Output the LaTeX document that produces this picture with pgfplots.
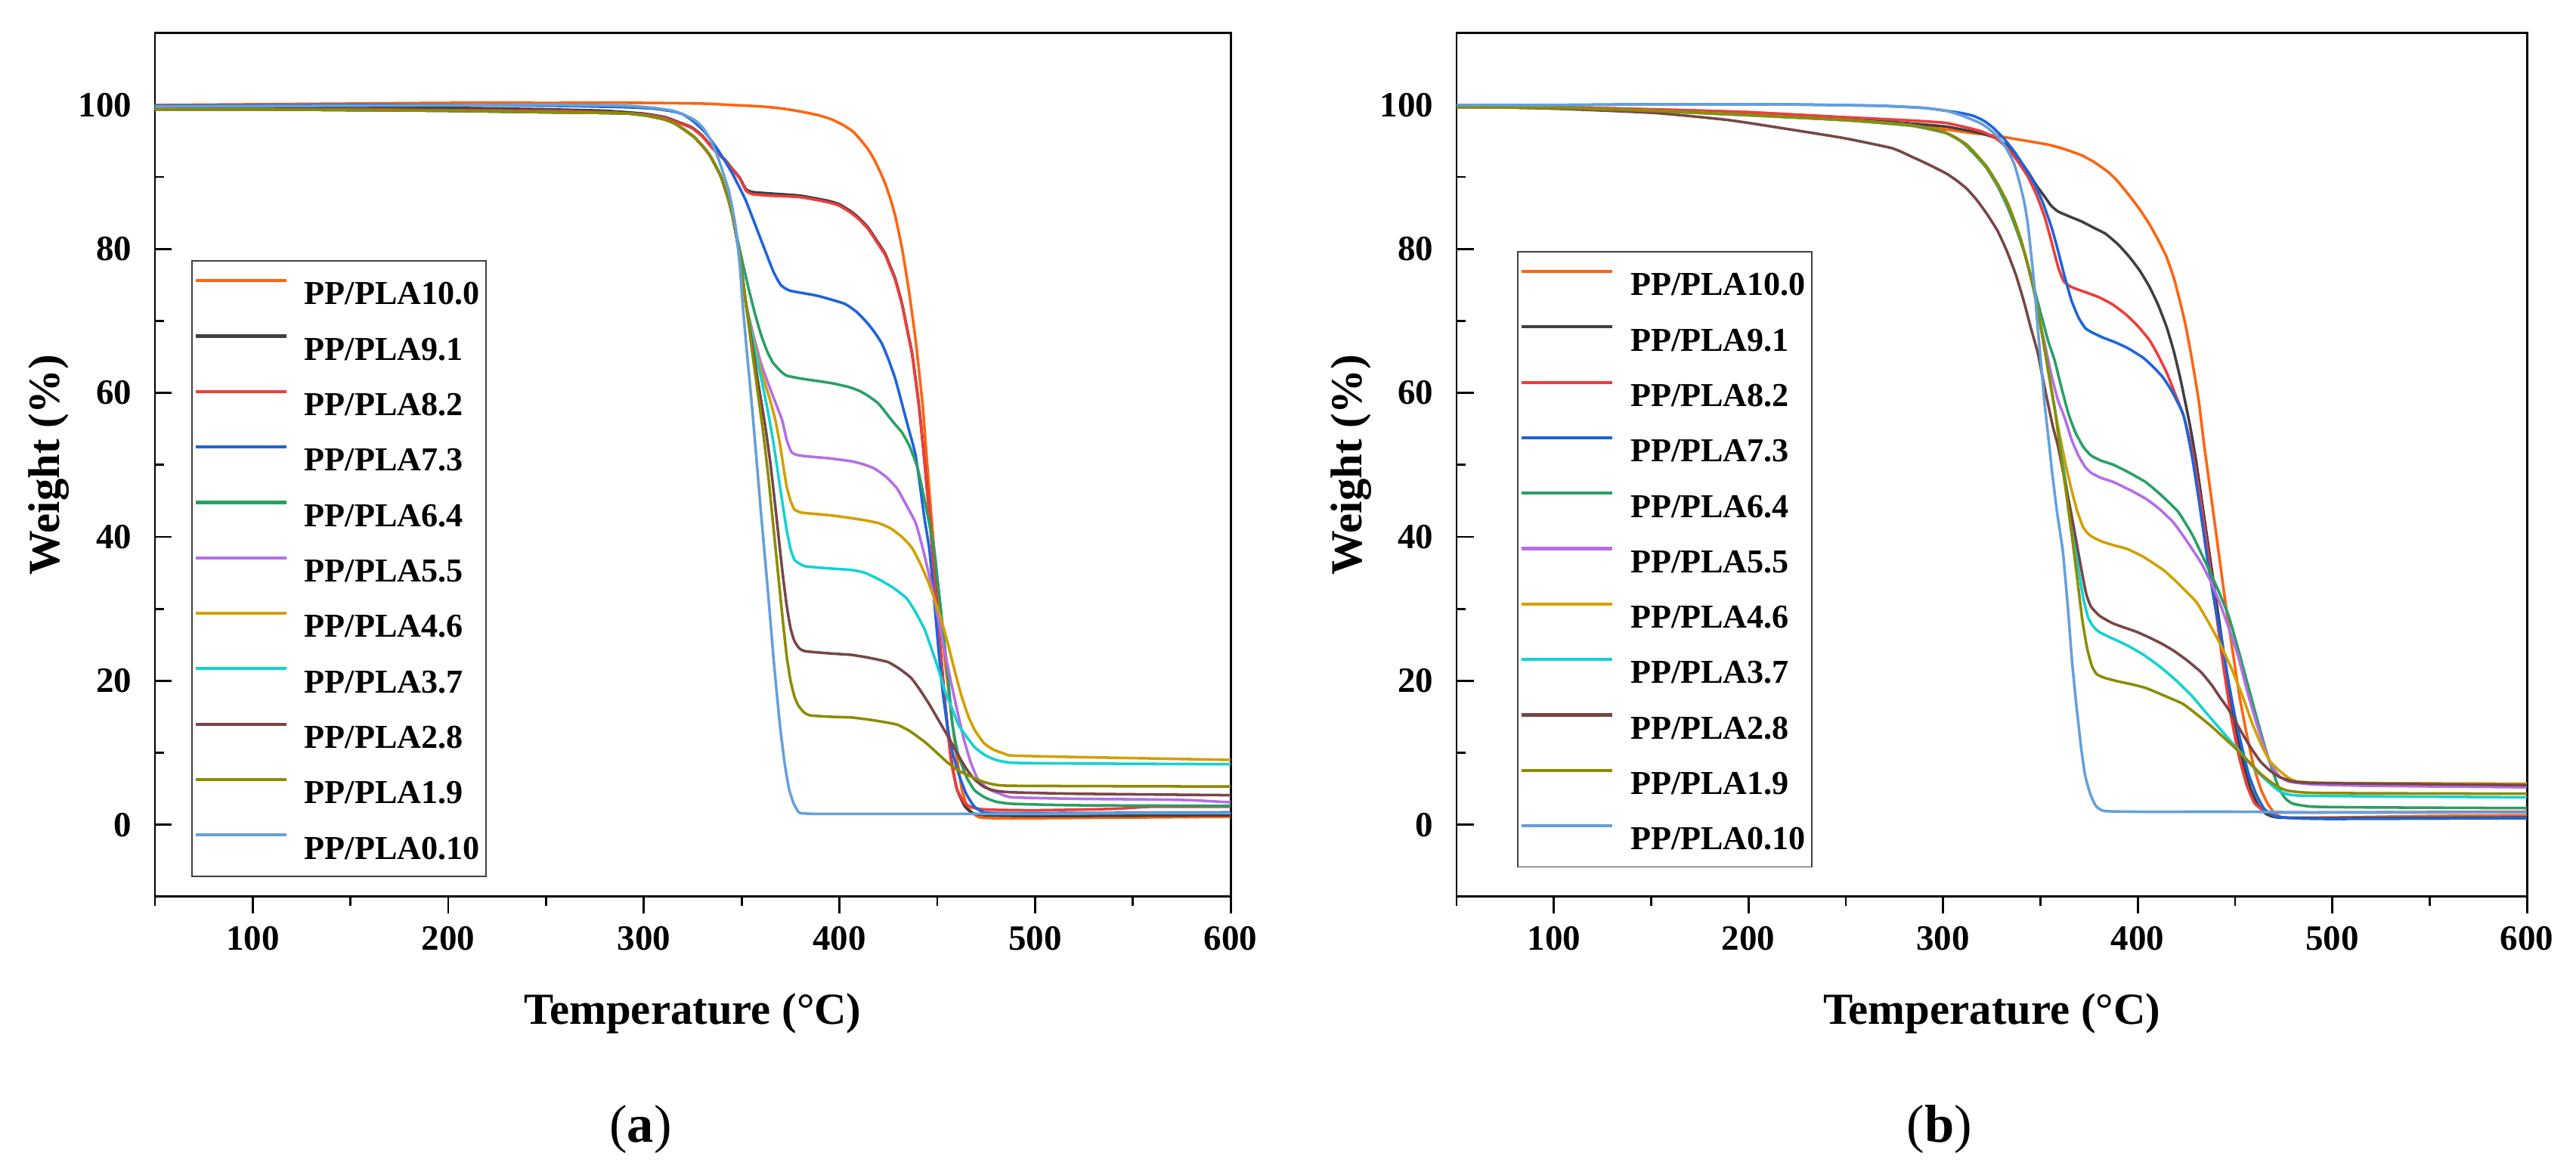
\documentclass[border=0pt]{standalone}
\usepackage{fontspec}
\setmainfont{Liberation Serif}
\usepackage{pgfplots}
\pgfplotsset{compat=1.18}

\definecolor{cA}{RGB}{255,100,16}
\definecolor{cB}{RGB}{64,64,64}
\definecolor{cC}{RGB}{240,60,60}
\definecolor{cD}{RGB}{30,100,220}
\definecolor{cE}{RGB}{40,160,100}
\definecolor{cF}{RGB}{180,110,230}
\definecolor{cG}{RGB}{210,160,0}
\definecolor{cH}{RGB}{20,210,210}
\definecolor{cI}{RGB}{120,70,70}
\definecolor{cJ}{RGB}{140,140,0}
\definecolor{cK}{RGB}{100,160,220}

\pgfplotsset{
  tga/.style={
    scale only axis, width=302.8pt, height=243pt, anchor=south west,
    xmin=50, xmax=600, ymin=-10, ymax=110,
    xtick={100,200,300,400,500,600}, minor xtick={50,150,250,350,450,550},
    ytick={0,20,40,60,80,100}, minor ytick={10,30,50,70,90},
    xtick pos=bottom, ytick pos=left,
    xtick align=outside, ytick align=inside,
    major tick length=4.8pt, minor tick length=2.5pt,
    tick style={black, line width=0.6pt},
    axis line style={line width=0.6pt},
    tick label style={font=\fontsize{10}{12}\selectfont\bfseries},
    /pgf/number format/assume math mode=true,
    yticklabel style={xshift=-3pt},
    xlabel={Temperature (°C)}, ylabel={Weight (\%)},
    label style={font=\fontsize{12.5}{15}\selectfont\bfseries},
    xlabel style={at={(axis description cs:0.5,-0.135)}, anchor=center},
    ylabel style={at={(axis description cs:-0.0985,0.5)}, anchor=center},
    legend style={anchor=north west, draw=black!75, line width=0.4pt, fill=white,
      font=\fontsize{9.4}{10}\selectfont\bfseries, inner xsep=0.7pt, inner ysep=3.3pt,
      row sep=5.1pt, cells={anchor=west},
      nodes={inner sep=1pt, text height=8pt, text depth=0.5pt}},
    legend image code/.code={\draw[#1, line width=0.9pt, sharp plot] (0pt,3pt) -- (25.5pt,3pt); \path (29.2pt,3pt);},
    every axis plot/.append style={line width=0.75pt, mark=none, smooth, tension=0.3},
  }
}

\begin{document}
\begin{tikzpicture}
\useasboundingbox (-43.6pt,-76.6pt) rectangle (681.5pt,252.3pt);

% (a)
\begin{axis}[tga, at={(0pt,0pt)}, legend style={at={(0.0337,0.737)}}]
\addplot[cA] coordinates {(50,100.0)(100,100.1)(150,100.2)(200,100.3)(250,100.3)(300,100.3)(330,100.2)(345,100.0)(360,99.8)(371,99.5)(380,99.1)(389,98.6)(396,98.0)(402,97.2)(407,96.3)(411,95.1)(415,93.7)(418,92.3)(421,90.6)(423.5,89.0)(426,87.0)(428.5,84.6)(432,80.1)(435.5,74.2)(439,67.2)(442.5,58.4)(444.5,51.4)(446.5,44.5)(448.5,38.0)(451,31.0)(453,25.0)(455.3,19.7)(457.5,14.5)(460,9.5)(462.5,5.0)(465,2.8)(468,1.6)(472,1.0)(480,0.9)(500,0.9)(550,1.0)(600,1.1)};
\addlegendentry{PP/PLA10.0}
\addplot[cB] coordinates {(50,99.8)(100,99.7)(150,99.6)(200,99.6)(250,99.4)(280,99.2)(300,98.8)(311,98.3)(318,97.6)(324.5,96.9)(330,95.7)(335,94.1)(341.8,92.3)(345,91.2)(349,89.9)(352.2,88.3)(355.7,87.9)(365,87.7)(380,87.4)(394,86.7)(400,86.2)(406,85.2)(410,84.3)(414.6,83.0)(419,81.2)(423.3,79.4)(426,77.6)(428.5,75.9)(432,72.4)(435,68.4)(437.2,65.4)(440.6,58.4)(443.2,51.4)(446,43.0)(448.4,35.5)(451,26.5)(454.2,16.5)(457,9.5)(460,5.0)(464,2.6)(468,1.6)(475,1.3)(500,1.2)(600,1.3)};
\addlegendentry{PP/PLA9.1}
\addplot[cC] coordinates {(50,99.4)(100,99.4)(150,99.4)(200,99.3)(250,99.2)(280,99.0)(300,98.7)(311,98.2)(318,97.5)(324.5,96.8)(330,95.6)(335,94.0)(341.8,92.2)(345,91.1)(349,89.8)(352.2,88.1)(355.7,87.6)(365,87.4)(380,87.2)(394,86.5)(400,86.0)(406,85.0)(410,84.1)(414.6,82.8)(419,81.0)(423.3,79.2)(426,77.4)(428.5,75.7)(432,72.2)(435,68.2)(437.2,65.2)(440.6,58.2)(443.2,51.2)(446,42.8)(448.4,35.0)(451,26.0)(454.2,16.0)(457,9.0)(460,5.0)(464,3.0)(468,2.4)(475,2.1)(500,2.0)(540,2.2)(560,2.5)(600,2.5)};
\addlegendentry{PP/PLA8.2}
\addplot[cD] coordinates {(50,99.9)(150,100.0)(250,99.9)(290,99.7)(305,99.5)(315,99.1)(320,98.7)(325,97.8)(331,96.3)(338,93.7)(345,90.6)(352,86.8)(359,81.9)(366,77.0)(370,75.0)(374.7,74.2)(388.6,73.5)(402.5,72.4)(409,71.2)(414.6,69.6)(418,68.4)(421.6,66.9)(425,64.7)(428.5,62.0)(431,59.5)(433.7,56.7)(436.4,54.0)(438.9,51.4)(441,47.5)(443.5,42.5)(446,38.2)(448.5,31.0)(450.7,24.2)(453,18.0)(455.5,13.2)(457.7,10.2)(461,7.0)(464.8,4.3)(469,2.5)(474.2,1.7)(490,1.6)(600,1.7)};
\addlegendentry{PP/PLA7.3}
\addplot[cE] coordinates {(50,99.4)(100,99.4)(150,99.3)(200,99.2)(250,99.0)(280,98.9)(293,98.8)(302,98.5)(310.6,98.0)(316,97.4)(321,96.5)(325.5,95.6)(329.7,94.4)(333.5,93.1)(336.6,91.6)(339.5,90.0)(341.8,88.1)(343.6,86.5)(345.3,84.6)(348,81.2)(351,77.5)(354,74.0)(357,70.8)(360,68.0)(363,65.8)(366,64.2)(370,63.0)(373,62.4)(380,62.0)(390,61.6)(397,61.3)(405,60.8)(410,60.3)(414.6,59.6)(420,58.5)(425,56.8)(428.5,55.6)(432,54.5)(436,52.5)(440,49.5)(444,44.5)(448.4,38.2)(451,32.0)(453,27.0)(455.5,20.5)(457.7,14.1)(460.5,10.0)(464.8,6.7)(469,4.8)(474.2,3.8)(480,3.2)(488.4,2.9)(520,2.7)(600,2.6)};
\addlegendentry{PP/PLA6.4}
\addplot[cF] coordinates {(50,99.4)(100,99.4)(150,99.3)(200,99.2)(250,99.0)(280,98.9)(293,98.8)(302,98.5)(310.6,98.0)(316,97.4)(321,96.5)(325.5,95.6)(329.7,94.4)(333.5,93.1)(336.6,91.6)(339.5,90.0)(341.8,88.1)(343.6,86.5)(345.3,84.6)(347,82.2)(348.8,79.4)(350.5,76.0)(352.2,72.4)(356,68.0)(360,64.0)(364,61.0)(367.5,58.5)(370.7,56.2)(373,53.5)(375.4,51.8)(378,51.4)(382.5,51.2)(395,50.9)(406,50.5)(412,50.1)(417.8,49.5)(424,48.3)(429.5,46.7)(434,44.5)(439,41.9)(442.5,38.5)(446,34.5)(449.5,30.0)(453,25.2)(456.5,20.5)(460.1,16.0)(463.5,12.0)(467.2,8.6)(471,6.2)(476.6,4.9)(482,4.3)(488.4,3.8)(520,3.6)(560,3.5)(580,3.4)(600,3.1)};
\addlegendentry{PP/PLA5.5}
\addplot[cG] coordinates {(50,99.4)(100,99.4)(150,99.3)(200,99.2)(250,99.0)(280,98.9)(293,98.8)(302,98.5)(310.6,98.0)(316,97.4)(321,96.5)(325.5,95.6)(329.7,94.4)(333.5,93.1)(336.6,91.6)(339.5,90.0)(341.8,88.1)(343.6,86.5)(345.3,84.6)(347,82.2)(348.8,79.4)(350.5,76.0)(352.2,72.4)(356,67.5)(360,63.0)(364,59.5)(367,56.5)(369.5,53.0)(371.5,49.5)(373,47.0)(375,45.0)(377,43.8)(380,43.4)(382.5,43.3)(395,43.0)(406,42.6)(413,42.3)(420,41.9)(426,41.2)(431.9,40.0)(437,38.5)(441.3,36.3)(445,34.0)(448.4,31.5)(452,28.5)(455.4,25.2)(459,21.3)(462.5,17.8)(466,15.0)(469.5,13.0)(474,11.3)(478.9,10.4)(484,9.9)(488.4,9.6)(520,9.4)(560,9.2)(600,9.0)};
\addlegendentry{PP/PLA4.6}
\addplot[cH] coordinates {(50,99.4)(100,99.4)(150,99.3)(200,99.2)(250,99.0)(280,98.9)(293,98.8)(302,98.5)(310.6,98.0)(316,97.4)(321,96.5)(325.5,95.6)(329.7,94.4)(333.5,93.1)(336.6,91.6)(339.5,90.0)(341.8,88.1)(343.6,86.5)(345.3,84.6)(347,82.2)(348.8,79.4)(350.5,76.0)(352.2,72.4)(356,67.0)(360,62.0)(363,58.0)(366,53.5)(368.5,49.0)(370.7,45.0)(373,41.0)(375,38.3)(377,36.8)(380,36.2)(382.5,35.9)(395,35.6)(406,35.4)(413,35.0)(420.1,34.1)(427,33.0)(434.2,31.5)(439,29.5)(443.6,27.1)(447,24.5)(450.7,21.5)(454,18.5)(457.8,16.0)(461,13.8)(464.8,12.3)(469,10.8)(474.2,9.7)(480,9.0)(488.4,8.6)(520,8.5)(600,8.4)};
\addlegendentry{PP/PLA3.7}
\addplot[cI] coordinates {(50,99.4)(100,99.4)(150,99.3)(200,99.2)(250,99.0)(280,98.9)(293,98.8)(302,98.5)(310.6,98.0)(316,97.4)(321,96.5)(325.5,95.6)(329.7,94.4)(333.5,93.1)(336.6,91.6)(339.5,90.0)(341.8,88.1)(343.6,86.5)(345.3,84.6)(347,82.2)(348.8,79.4)(350.5,76.0)(352.2,72.4)(355.5,66.5)(359,60.5)(362,55.5)(364.8,50.0)(367.5,43.5)(370.7,35.5)(373,30.5)(375,27.3)(377,25.5)(379.5,24.5)(382.5,24.1)(395,23.8)(406,23.6)(415,23.2)(424.8,22.6)(431,21.6)(436.6,20.4)(441,18.8)(446,16.7)(450.5,14.6)(455.4,12.3)(460,10.0)(464.8,7.8)(469,6.3)(474.2,5.2)(480,4.7)(488.4,4.5)(520,4.3)(600,4.1)};
\addlegendentry{PP/PLA2.8}
\addplot[cJ] coordinates {(50,99.4)(100,99.4)(150,99.3)(200,99.2)(250,99.0)(280,98.9)(293,98.8)(302,98.5)(310.6,98.0)(316,97.4)(321,96.5)(325.5,95.6)(329.7,94.4)(333.5,93.1)(336.6,91.6)(339.5,90.0)(341.8,88.1)(343.6,86.5)(345.3,84.6)(347,82.2)(348.8,79.4)(350.5,76.0)(352.2,72.4)(355,66.5)(358,60.5)(361,54.5)(363.6,48.5)(366,42.0)(368.4,35.5)(371,28.5)(373,23.5)(375,20.0)(377,17.8)(378.9,16.6)(381.5,15.7)(384.8,15.2)(395,15.0)(406,14.9)(415,14.6)(422,14.3)(429.5,13.9)(436,13.0)(443.6,11.5)(449,10.2)(455.4,8.6)(461,7.5)(467.2,6.7)(473,6.0)(478.9,5.6)(490,5.4)(600,5.3)};
\addlegendentry{PP/PLA1.9}
\addplot[cK] coordinates {(50,99.8)(150,99.9)(250,100.0)(290,99.9)(305,99.6)(315,99.2)(321,98.6)(326,97.9)(330,96.9)(334,95.2)(338,92.6)(341,90.2)(343.5,88.0)(345.5,85.3)(347,82.9)(349,77.8)(350.5,72.4)(352.5,66.2)(354,61.9)(355.8,56.5)(357.4,51.4)(360,43.0)(363.6,31.9)(366.5,22.5)(369.5,14.0)(372,8.5)(374.2,5.0)(376.5,3.0)(378.5,2.0)(380.1,1.6)(390,1.5)(450,1.5)(500,1.5)(550,1.6)(600,1.6)};
\addlegendentry{PP/PLA0.10}
\end{axis}

% (b)
\begin{axis}[tga, at={(366.4pt,0pt)}, width=301.3pt, legend style={at={(0.0565,0.7476)}}]
\addplot[cA] coordinates {(50,99.9)(100,99.7)(150,99.4)(200,99.0)(250,98.2)(275,97.6)(301.5,96.6)(315,96.1)(327.7,95.7)(341,95.1)(353.8,94.5)(362,93.9)(371.3,93.0)(378,92.0)(385.2,90.6)(390,89.3)(395.7,87.4)(401,85.5)(406.1,83.4)(411,81.0)(414.9,78.8)(418.5,76.0)(421.8,72.6)(424.5,69.5)(427.1,65.8)(429.5,62.0)(431.5,58.6)(434,53.0)(438,45.0)(442,37.0)(445.5,30.0)(449.1,23.5)(452.5,17.5)(456.2,12.3)(459.5,8.2)(463.3,4.9)(467,2.8)(470.4,1.6)(475,1.0)(500,1.0)(550,1.2)(600,1.3)};
\addlegendentry{PP/PLA10.0}
\addplot[cB] coordinates {(50,99.9)(100,99.7)(150,99.3)(200,98.8)(250,98.1)(280,97.5)(301.5,97.0)(319,96.1)(327,95.4)(333,94.3)(338,92.8)(343.4,90.8)(348,88.8)(352.1,87.3)(355.5,86.0)(359.1,85.2)(365,84.5)(371.3,83.8)(377,83.0)(383.5,82.1)(390,80.6)(395.7,78.9)(401,77.0)(406.1,74.7)(410.5,72.2)(414.9,69.1)(418.5,65.8)(421.8,62.1)(424.5,58.6)(427.1,55.1)(430,50.5)(434,43.0)(438,35.5)(442,28.0)(446,20.5)(450,14.0)(454,8.8)(458,5.0)(462,2.7)(466,1.5)(472,1.0)(500,0.9)(600,1.0)};
\addlegendentry{PP/PLA9.1}
\addplot[cC] coordinates {(50,99.8)(100,99.7)(150,99.4)(200,99.0)(250,98.3)(280,97.9)(301.5,97.5)(319,96.4)(327,95.4)(333,94.0)(338,92.3)(343.4,90.1)(348,87.5)(352.1,84.5)(355.5,81.2)(359.1,77.5)(362,75.5)(366,74.7)(373,74.0)(380,73.3)(387,72.3)(393.9,70.9)(400,69.3)(406.1,67.3)(410.5,65.2)(414.9,62.8)(419,60.0)(423.6,56.8)(428,52.0)(432,45.5)(436,38.0)(440,30.0)(444,22.0)(448,15.0)(452,9.5)(456,5.5)(460,3.0)(465,1.9)(472,1.7)(500,1.7)(600,1.8)};
\addlegendentry{PP/PLA8.2}
\addplot[cD] coordinates {(50,100.0)(100,100.0)(150,100.1)(214,100.1)(266.6,99.9)(290,99.6)(301.5,99.2)(309,98.9)(315.5,98.5)(321,97.8)(325.9,96.8)(331,95.4)(336.4,93.6)(341.5,91.5)(346.8,89.1)(351,86.6)(355.6,83.1)(359,79.8)(362.5,76.1)(366,72.8)(369.5,70.5)(373,69.0)(376.5,68.4)(382,67.7)(388.7,67.0)(395,66.2)(402.7,64.9)(408,63.6)(413.1,62.1)(418,60.0)(423.6,56.8)(428,51.0)(432,44.0)(436,36.5)(440,30.0)(443.5,25.0)(446.7,19.8)(450,15.0)(453.8,10.5)(457,7.0)(460.9,4.2)(465,2.2)(470.4,1.2)(480,0.9)(500,0.8)(600,0.9)};
\addlegendentry{PP/PLA7.3}
\addplot[cE] coordinates {(50,99.8)(100,99.6)(150,99.2)(221.5,98.3)(250,97.9)(284,97.1)(301.5,96.1)(307,95.4)(312,94.3)(317,92.9)(322.4,91.2)(328,88.7)(333,85.9)(337.5,82.8)(341.6,79.6)(346,75.3)(350.3,70.9)(354,67.2)(357.3,64.5)(361,60.5)(364.5,57.0)(368,54.5)(372,52.5)(376,51.3)(381,50.6)(387.6,50.0)(395,49.0)(404.1,47.6)(412,45.8)(420.7,43.5)(428,40.3)(434.9,36.4)(441,32.8)(446.7,29.0)(451.5,24.5)(456.2,19.8)(461,15.0)(465.7,10.5)(469.5,7.3)(472.8,4.9)(476,3.6)(479.9,2.9)(490,2.5)(520,2.4)(600,2.3)};
\addlegendentry{PP/PLA6.4}
\addplot[cF] coordinates {(50,99.7)(100,99.6)(150,99.2)(200,98.6)(250,97.9)(280,97.3)(290,96.9)(300,96.3)(306,95.5)(312,94.5)(317,93.1)(322.4,91.4)(328,89.0)(333,86.4)(336.5,84.0)(340,81.2)(343.5,77.8)(347,73.8)(350,69.5)(352.5,66.5)(355.6,62.5)(359,59.0)(362.5,56.5)(366,53.5)(369.5,51.3)(373,49.7)(376,48.9)(381,48.2)(387.6,47.6)(396,46.5)(404.1,45.3)(411,43.9)(418.3,42.0)(425,39.5)(432.5,36.4)(437.5,33.8)(442,30.9)(447,27.2)(451.5,23.5)(456,18.8)(460.9,14.2)(464.5,11.2)(468,8.6)(472.5,6.8)(477.5,6.0)(490,5.6)(520,5.4)(600,5.2)};
\addlegendentry{PP/PLA5.5}
\addplot[cG] coordinates {(50,99.7)(100,99.6)(150,99.2)(200,98.6)(250,97.9)(280,97.3)(290,96.9)(300,96.3)(306,95.5)(312,94.5)(317,93.1)(322.4,91.4)(328,89.0)(333,86.4)(336.5,84.0)(340,81.2)(343.5,77.8)(347,73.8)(350,69.5)(352.5,65.5)(355,61.5)(357.5,57.5)(360,54.0)(363,50.0)(366,46.5)(369,43.5)(372,41.3)(375,40.3)(378,39.8)(382,39.3)(388,38.8)(394.7,38.3)(403,37.2)(413.6,35.3)(422,33.2)(430.2,30.9)(436,28.3)(442,25.3)(448,21.8)(453.8,17.9)(458.5,14.3)(463.3,11.2)(468,8.8)(472.8,7.5)(477.5,6.5)(482.2,6.0)(500,5.8)(600,5.7)};
\addlegendentry{PP/PLA4.6}
\addplot[cH] coordinates {(50,99.7)(100,99.6)(150,99.2)(200,98.6)(250,97.9)(280,97.3)(290,96.9)(300,96.3)(306,95.5)(312,94.5)(317,93.1)(322.4,91.4)(328,89.0)(333,86.4)(336.5,84.0)(340,81.2)(343.5,77.8)(347,73.8)(350,69.5)(352.5,65.5)(355,61.5)(357.5,57.5)(360,53.0)(363,47.5)(366,42.0)(369,36.5)(372,31.5)(374.5,28.8)(377,27.6)(380,26.8)(386,26.0)(394.7,24.9)(403,23.6)(411.2,22.0)(419.5,20.1)(427.8,17.9)(435,15.6)(442,13.4)(449,11.2)(456.2,9.0)(462,7.2)(468,5.7)(472.5,4.7)(477.5,4.2)(490,4.0)(600,3.8)};
\addlegendentry{PP/PLA3.7}
\addplot[cI] coordinates {(50,99.8)(100,99.5)(151.7,98.9)(190,97.9)(221.5,96.6)(249,95.4)(273.7,94.0)(284,92.8)(292,91.8)(301.5,90.5)(307,89.5)(312,88.4)(317,86.9)(322.4,84.9)(328,82.5)(332.9,79.6)(337.5,76.3)(341.6,72.6)(345,69.1)(348.6,65.6)(351,62.3)(353.8,58.6)(356.5,55.2)(359.1,52.5)(362,48.5)(366,43.0)(370,37.0)(373.4,32.2)(376,30.3)(380.5,29.0)(387,28.0)(393,27.4)(399.4,26.8)(406,26.0)(412,25.2)(418.3,24.2)(425,22.9)(432.5,21.2)(438,19.4)(442,17.8)(446.7,16.0)(450.5,14.2)(454.5,12.3)(458.6,10.5)(463,8.8)(468,7.5)(473,6.6)(479.9,6.0)(490,5.8)(520,5.7)(560,5.6)(600,5.5)};
\addlegendentry{PP/PLA2.8}
\addplot[cJ] coordinates {(50,99.7)(100,99.6)(150,99.2)(200,98.6)(250,97.9)(280,97.3)(290,96.9)(300,96.3)(306,95.5)(312,94.5)(317,93.1)(322.4,91.4)(328,89.0)(333,86.4)(336.5,84.0)(340,81.2)(343.5,77.8)(347,73.8)(350,69.5)(352.5,65.5)(355,61.5)(357.5,57.5)(360,52.5)(363,46.5)(366,40.5)(369,34.0)(371.5,28.5)(374,24.5)(376.5,22.0)(379,20.9)(383,20.4)(390,19.9)(397,19.5)(404.1,19.0)(413,18.0)(423.1,16.8)(430,15.4)(437.3,13.8)(443,12.4)(449.1,10.9)(454,9.6)(458.6,8.3)(463,7.1)(468,6.0)(472.5,5.2)(477.5,4.7)(494,4.4)(600,4.3)};
\addlegendentry{PP/PLA1.9}
\addplot[cK] coordinates {(50,100.0)(100,100.0)(150,100.1)(214,100.1)(266,99.9)(290,99.6)(301.5,99.2)(310,98.5)(319,97.5)(323,96.8)(327.7,95.7)(332,94.2)(336.4,91.9)(339,89.5)(341.6,86.6)(343.5,83.5)(345.1,79.6)(347,74.5)(348.6,69.1)(350.5,63.5)(352.1,58.6)(354,54.0)(356,49.0)(358.5,43.5)(361.5,38.0)(364,30.5)(366.3,22.5)(368.5,16.5)(371,10.5)(373,6.8)(375.7,4.2)(378.5,2.6)(382.8,1.9)(400,1.8)(450,1.8)(500,1.7)(600,1.7)};
\addlegendentry{PP/PLA0.10}
\end{axis}

\node[font=\fontsize{15}{18}\selectfont] at (136.7pt,-65.5pt) {(\textbf{a})};
\node[font=\fontsize{15}{18}\selectfont] at (502.3pt,-65.5pt) {(\textbf{b})};
\end{tikzpicture}
\end{document}
